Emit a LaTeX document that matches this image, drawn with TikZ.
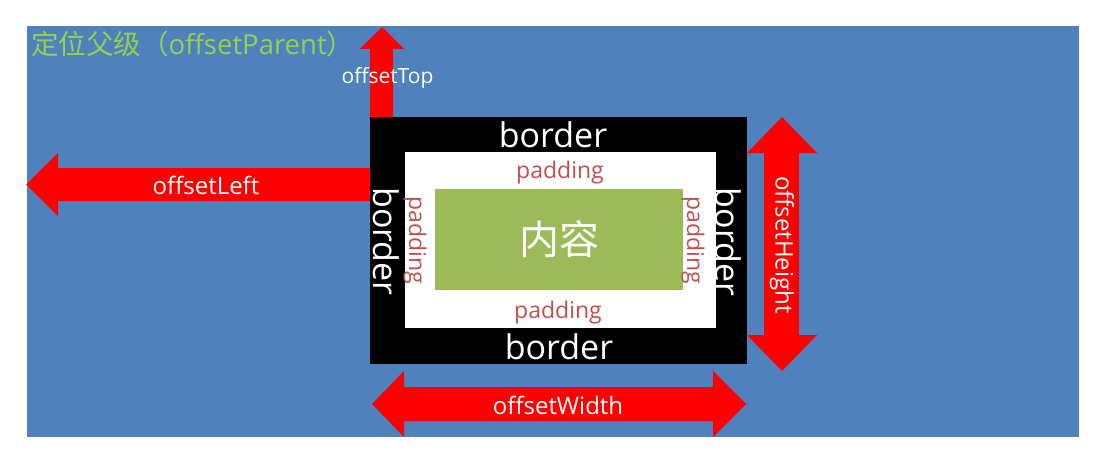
\documentclass[tikz,border=0pt]{standalone}
\usepackage{fontspec}
\setmainfont{Open Sans}
\newfontfamily\cjk{Noto Sans CJK SC}
\usepackage{tikz}
\usetikzlibrary{positioning,calc}
\definecolor{parentblue}{HTML}{4F81BD}
\definecolor{contentgreen}{HTML}{9BBB59}
\definecolor{padred}{HTML}{C0504D}
\definecolor{titlegreen}{HTML}{92D050}
\definecolor{arrowred}{HTML}{FF0000}

\begin{document}
\begin{tikzpicture}[x=1pt,y=-1pt,
        layer/.style={inner sep=0pt,outer sep=0pt,anchor=north west},
        bordertext/.style={inner sep=0pt,text=white,font=\fontsize{34}{34}\selectfont},
        padtext/.style={inner sep=0pt,text=padred,font=\fontsize{23}{23}\selectfont},
        offtext/.style={inner sep=0pt,text=white,font=\fontsize{24}{24}\selectfont},
        redarrow/.style={fill=arrowred}]
        \useasboundingbox (0,0) rectangle (1107,468);
        \fill[parentblue] (27,26) rectangle (1079,437);
        \node[inner sep=0pt,anchor=west,text=titlegreen,font=\fontsize{27.5}{27.5}\selectfont]
              (parent) at (31,44) {{\cjk 定位父级（}offsetParent{\cjk ）}};
        % box model
        \node[layer,fill=black,minimum width=377pt,minimum height=247pt] (brd) at (370,117) {};
        \node[layer,fill=white,minimum width=311pt,minimum height=176pt] (pad) at (405,152) {};
        \node[layer,fill=contentgreen,minimum width=248pt,minimum height=101pt] (cnt) at (435,189) {};
        \node[inner sep=0pt,text=white,font=\cjk\fontsize{40}{40}\selectfont] (cntlabel) at (cnt.center) {内容};
        \node[bordertext] (brdtop) at (553,134.5) {border};
        \node[bordertext] (brdbottom) at (559,346.5) {border};
        \node[bordertext,rotate=-90] (brdleft) at (386,241.5) {border};
        \node[bordertext,rotate=-90] (brdright) at (728.5,242) {border};
        \node[padtext] (padtop) at (560,172.5) {padding};
        \node[padtext] (padbottom) at (558,312.5) {padding};
        \node[padtext,rotate=-90] (padleft) at (415,240) {padding};
        \node[padtext,rotate=-90] (padright) at (693,240) {padding};
        % offset arrows
        \fill[redarrow] (brd.north west) -- (370,49) -- (360,49) -- (382,27) -- (404,49) -- (393,49) -- (393,117) -- cycle;
        \fill[redarrow] (370,168) -- (58,168) -- (58,153) -- (26,184.5) -- (58,216) -- (58,201) -- (370,201) -- cycle;
        \fill[redarrow] (764,153) -- (747,153) -- (782,117) -- (817,153) -- (799,153) -- (799,335)
              -- (817,335) -- (782,371) -- (747,335) -- (764,335) -- cycle;
        \fill[redarrow] (404,387) -- (404,371) -- (372,404) -- (404,437) -- (404,421) -- (713,421)
              -- (713,437) -- (746,404) -- (713,371) -- (713,387) -- cycle;
        \node[offtext,font=\fontsize{21}{21}\selectfont] (top) at (387.5,78) {offsetTop};
        \node[offtext] (left) at (206,185.5) {offsetLeft};
        \node[offtext] (width) at (558,405) {offsetWidth};
        \node[offtext,rotate=-90] (height) at (782,245) {offsetHeight};
      \end{tikzpicture}
\end{document}
